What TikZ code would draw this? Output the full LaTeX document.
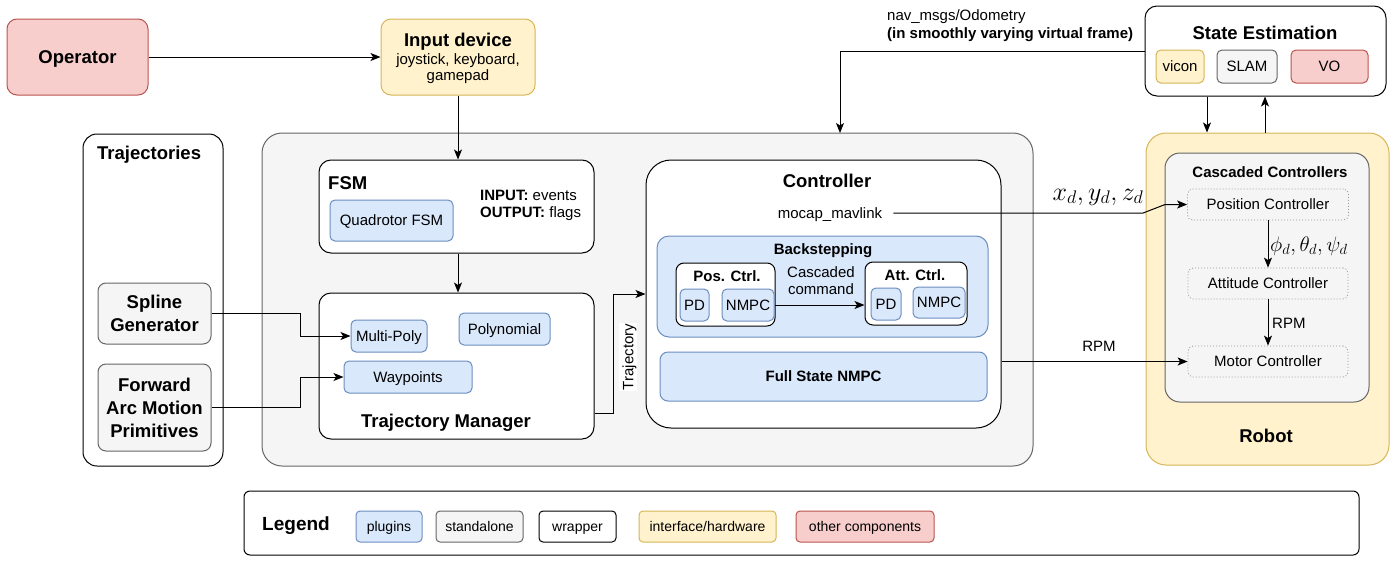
\RequirePackage{fix-cm}
\documentclass[tikz,border=0pt]{standalone}
\usepackage{fontspec}
\setmainfont{Liberation Sans}
\usetikzlibrary{arrows.meta, calc}
\definecolor{plugfill}{HTML}{DAE8FC}
\definecolor{plugline}{HTML}{6C8EBF}
\definecolor{standfill}{HTML}{F5F5F5}
\definecolor{standline}{HTML}{666666}
\definecolor{hwfill}{HTML}{FFF2CC}
\definecolor{hwline}{HTML}{D6B656}
\definecolor{otherfill}{HTML}{F8CECC}
\definecolor{otherline}{HTML}{B85450}
\definecolor{dotline}{HTML}{999999}
\newcommand{\txtsize}{\fontsize{15}{17}\selectfont}
\newcommand{\ttlsize}{\fontsize{18.5}{23}\selectfont\bfseries}
\tikzset{
  % same line box for every single-line text (height, depth)
  tl/.style 2 args={text height=#1, text depth=#2},
  % undo it for texts of several lines
  multi/.style={text height=, text depth=},
  % every box: rounded rectangle, radius in px
  box/.style={rectangle, rounded corners=#1pt, inner sep=0pt,
              line width=1pt, align=center, font=\txtsize, tl={13.5pt}{3pt}},
  box/.default=6,
  % box size in px
  wh/.style 2 args={minimum width=#1pt, minimum height=#2pt},
  % blue = plugin
  plugin/.style={box=#1, fill=plugfill, draw=plugline},
  plugin/.default=5,
  % grey = standalone
  standalone/.style={box=#1, fill=standfill, draw=standline},
  standalone/.default=8,
  % white = wrapper
  wrapper/.style={box=#1, fill=white, draw=black},
  wrapper/.default=12,
  % yellow = interface/hardware
  iface/.style={box=#1, fill=hwfill, draw=hwline},
  iface/.default=10,
  % red = other components
  othercomp/.style={box=#1, fill=otherfill, draw=otherline},
  othercomp/.default=10,
  % dotted inner blocks of the robot
  lowlevel/.style={box=5, fill=standfill, draw=dotline, dotted, line width=0.8pt},
  % plain text
  txt/.style={font=\txtsize, inner sep=0pt, align=left, tl={13.5pt}{3pt}},
  ttl/.style={font=\ttlsize, inner sep=0pt, tl={16.6pt}{3.7pt}},
  sub/.style={font=\txtsize\bfseries, inner sep=0pt, tl={13.5pt}{3pt}},
  conn/.style={line width=1pt, -{Stealth[length=10pt, width=8pt, inset=2.5pt]}},
}

\begin{document}
\begin{tikzpicture}[x=1pt, y=-1pt]
  \useasboundingbox (0,0) rectangle (1393,560);
  % outer frames
  \node[wrapper=14, wh={140}{332}] (trajs) at (153,300) {};
  \node[standalone=20, wh={771}{333}] (core) at (647.5,299.5) {};
  \node[iface=20, wh={243}{332}] (robot) at (1267.5,299) {};

  % operator and input device
  \node[othercomp, wh={141}{76}, font=\ttlsize, tl={16.6pt}{3.7pt}] (op) at (77.5,57) {Operator};
  \node[iface, wh={154}{76}] (inp) at (458,57) {};
  \node[ttl] (inpttl) at (458,40) {Input device};
  \node[txt, multi, align=center, font=\fontsize{15}{16}\selectfont] (inptxt) at (458,69)
    {joystick, keyboard,\\gamepad};

  % trajectories
  \node[ttl, anchor=west] (trajsttl) at (97,153) {Trajectories};
  \node[standalone, multi, wh={113}{61}, font=\ttlsize] (spline) at (154.5,313.5) {Spline\\Generator};
  \node[standalone, multi, wh={113}{87}, font=\ttlsize] (farc) at (154.5,407.5)
    {Forward\\Arc Motion\\Primitives};

  % FSM
  \node[wrapper, wh={275}{93}] (fsm) at (456.5,206.5) {};
  \node[ttl, anchor=west] (fsmttl) at (328,183) {FSM};
  \node[plugin, wh={123}{41}] (qfsm) at (391.5,220.5) {Quadrotor FSM};
  \node[txt, multi, anchor=west] (fsmio) at (480,205.5) {\textbf{INPUT:} events\\\textbf{OUTPUT:} flags};

  % trajectory manager
  \node[wrapper, wh={275}{146}] (tmgr) at (456.5,366) {};
  \node[plugin, wh={76}{32}] (mpoly) at (389,336) {Multi-Poly};
  \node[plugin, wh={91}{32}] (poly) at (504.5,329) {Polynomial};
  \node[plugin, wh={128}{32}] (wayp) at (408,377) {Waypoints};
  \node[ttl] (tmgrttl) at (446,421) {Trajectory Manager};

  % controller
  \node[wrapper=25, wh={355}{268}] (ctrl) at (823.5,294) {};
  \node[ttl] (ctrlttl) at (827,181) {Controller};
  \node[txt] (mocap) at (830,213) {mocap\_mavlink};
  \node[plugin=12, wh={331}{101}] (backst) at (822.5,286.5) {};
  \node[sub] (backttl) at (823,249) {Backstepping};
  \node[wrapper=8, wh={99}{63}] (posc) at (725.5,294.5) {};
  \node[sub] (poscttl) at (727,276) {Pos. Ctrl.};
  \node[plugin, wh={29}{32}] (pd1) at (694.5,305) {PD};
  \node[plugin, wh={52}{32}] (nmpc1) at (748,305) {NMPC};
  \node[wrapper=8, wh={102}{63}] (attc) at (916,293.5) {};
  \node[sub] (attcttl) at (915,275) {Att. Ctrl.};
  \node[plugin, wh={30}{32}] (pd2) at (886,304) {PD};
  \node[plugin, wh={52}{31}] (nmpc2) at (939,302.5) {NMPC};
  \node[txt, multi, align=center] (casccmd) at (821,281) {Cascaded\\command};
  \node[plugin=8, wh={327}{49}, font=\txtsize\bfseries] (fsnmpc) at (823.5,376.5) {Full State NMPC};

  % state estimation
  \node[wrapper=12, wh={241}{90}] (stest) at (1265.5,51) {};
  \node[ttl] (stestttl) at (1265,33) {State Estimation};
  \node[iface=5, wh={48}{33}] (vicon) at (1180,66.5) {vicon};
  \node[standalone=5, wh={60}{33}] (slam) at (1247,66.5) {SLAM};
  \node[othercomp=5, wh={77}{33}] (vo) at (1329.5,66.5) {VO};
  \node[txt, multi, anchor=west, font=\fontsize{15}{18}\selectfont] (odo) at (887,26)
    {nav\_msgs/Odometry\\\textbf{(in smoothly varying virtual frame)}};

  % robot
  \node[standalone=15, wh={204}{249}] (casc) at (1267,277.5) {};
  \node[sub] (cascttl) at (1270,172) {Cascaded Controllers};
  \node[lowlevel, wh={161}{31}] (posctl) at (1268,204.5) {Position Controller};
  \node[lowlevel, wh={160}{31}] (attctl) at (1268,283.5) {Attitude Controller};
  \node[lowlevel, wh={160}{31}] (motctl) at (1268,361.5) {Motor Controller};
  \node[ttl] (robotttl) at (1266,436) {Robot};

  % legend
  \node[wrapper=6, wh={1115}{64}] (legend) at (801.5,523) {};
  \node[ttl, font=\fontsize{19}{22}\selectfont\bfseries, tl={17.1pt}{3.8pt}] (legttl) at (296,524) {Legend};
  \foreach \sty/\cx/\w/\lbl [count=\i] in {plugin/389/66/plugins,
      standalone/479.5/87/standalone, wrapper/577.5/77/wrapper,
      iface/707.5/137/interface\slash hardware, othercomp/865/138/other components}
    \node[\sty, box=4, wh={\w}{31}, font=\fontsize{14}{16}\selectfont, tl={12.6pt}{2.8pt}]
      (leg\i) at (\cx,526.5) {\lbl};

  % connections
  \draw[conn] (op.east) -- (inp.west);
  \draw[conn] (inp.south) -- (inp.south |- fsm.north);
  \draw[conn] (fsm.south -| inp.south) -- (inp.south |- tmgr.north);
  \coordinate (odoin) at (840,133);
  \draw[conn] (stest.west) -| (odoin);
  \coordinate (sedn) at (1207,0);
  \coordinate (seup) at (1265,0);
  \draw[conn] (stest.south -| sedn) -- (robot.north -| sedn);
  \draw[conn] (robot.north -| seup) -- (stest.south -| seup);
  \draw[conn] (spline.east) -- ++(89,0) |- (mpoly.west);
  \draw[conn] (farc.east) -- ++(89,0) |- (wayp.west);
  \draw[conn] ($(tmgr.east)+(0,47)$) -- ++(19,0) |- (ctrl.west);
  \node[txt, fill=white, rotate=90, inner sep=1pt] (trajlbl) at (628,357) {Trajectory};
  \draw[conn] (nmpc1.east) -- (nmpc1.east -| attc.west);
  \draw[conn] ($(mocap.east)+(11,0)$) -- ($(posctl.west)+(-44,8.5)$) -- ($(posctl.west)+(-22,0)$) -- (posctl.west);
  \node[font=\fontsize{26}{30}\selectfont, inner sep=0pt] (xyz) at (1098,197) {$x_d, y_d, z_d$};
  \draw[conn] (ctrl.east |- motctl.west) -- (motctl.west);
  \node[txt] (rpm1) at (1099,346) {RPM};
  \draw[conn] (posctl.south) -- (attctl.north);
  \node[font=\fontsize{21}{24}\selectfont, inner sep=0pt, anchor=west] (angles) at (1270,246)
    {$\phi_d, \theta_d, \psi_d$};
  \draw[conn] (attctl.south) -- (motctl.north);
  \node[txt, anchor=west] (rpm2) at (1272,323) {RPM};
\end{tikzpicture}
\end{document}
